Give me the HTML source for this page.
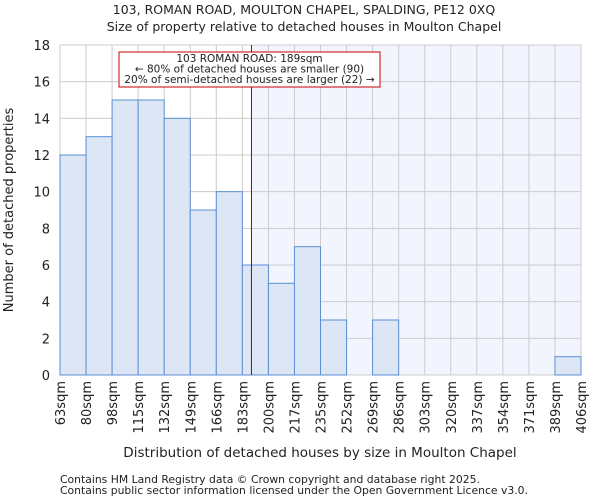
<!DOCTYPE html>
<html><head><meta charset="utf-8"><style>
body{margin:0;background:#fff;font-family:"DejaVu Sans","Liberation Sans",sans-serif;}
svg text{font-family:"DejaVu Sans","Liberation Sans",sans-serif;fill:#222;}
</style></head><body>
<svg id="c" width="600" height="500">
<text x="304" y="14" text-anchor="middle" font-size="12.5">103, ROMAN ROAD, MOULTON CHAPEL, SPALDING, PE12 0XQ</text>
<text x="304" y="31" text-anchor="middle" font-size="12.5">Size of property relative to detached houses in Moulton Chapel</text>
<g id="plot"></g>
<text x="320" y="457" text-anchor="middle" font-size="13.5">Distribution of detached houses by size in Moulton Chapel</text>
<text transform="translate(13,210) rotate(-90)" text-anchor="middle" font-size="13">Number of detached properties</text>
<text x="60" y="483" font-size="10.8" fill="#444">Contains HM Land Registry data © Crown copyright and database right 2025.</text>
<text x="60" y="494" font-size="10.8" fill="#444">Contains public sector information licensed under the Open Government Licence v3.0.</text>
</svg>
<script>
const binLabels=["63sqm","80sqm","98sqm","115sqm","132sqm","149sqm","166sqm","183sqm","200sqm","217sqm","235sqm","252sqm","269sqm","286sqm","303sqm","320sqm","337sqm","354sqm","371sqm","389sqm","406sqm"];
const counts=[12,13,15,15,14,9,10,6,5,7,3,0,3,0,0,0,0,0,0,1];
const yTicks=[0,2,4,6,8,10,12,14,16,18];
const propertyBinPos=7.35;
const NS="http://www.w3.org/2000/svg";
const g=document.getElementById('plot');
const L=60,R=581,T=45,B=375,yMax=18;
const bw=(R-L)/counts.length;
const xs=i=>L+i*bw, ys=v=>B-(v/yMax)*(B-T);
function mk(t,a,txt){const e=document.createElementNS(NS,t);for(const k in a)e.setAttribute(k,a[k]);if(txt!=null)e.textContent=txt;g.appendChild(e);return e;}
const px=xs(propertyBinPos);
let e=mk('rect',{x:px,y:T,width:R-px,height:B-T,fill:'#f2f5fd'});


yTicks.forEach(v=>{
 let l=mk('line',{x1:L,x2:R,y1:ys(v),y2:ys(v),stroke:'#ccc','stroke-width':1});
 
 
 let t=mk('text',{x:L-10,y:ys(v)+5,'text-anchor':'end','font-size':13},v);
 
 
});
binLabels.forEach((s,i)=>{
 let l=mk('line',{x1:xs(i),x2:xs(i),y1:T,y2:B,stroke:'#ccc','stroke-width':1});
 
 
 let t=mk('text',{transform:`translate(${xs(i)+5},381) rotate(-90)`,'text-anchor':'end','font-size':13},s);
 
 
});
counts.forEach((v,i)=>{
 if(v<=0)return;
 let r=mk('rect',{x:xs(i),y:ys(v),width:bw,height:B-ys(v),fill:'#dce6f5',stroke:'#5b8fd6','stroke-width':1});
 
 
});
e=mk('line',{x1:px,x2:px,y1:T,y2:B,stroke:'#a00','stroke-width':1});


e=mk('rect',{x:119,y:52,width:261,height:35,fill:'#fff',stroke:'#c00','stroke-width':1});


["103 ROMAN ROAD: 189sqm","← 80% of detached houses are smaller (90)","20% of semi-detached houses are larger (22) →"].forEach((s,i)=>{
 let t=mk('text',{x:249.5,y:62+i*10.5,'text-anchor':'middle','font-size':10.5},s);
 
 
});
</script>
</body></html>
